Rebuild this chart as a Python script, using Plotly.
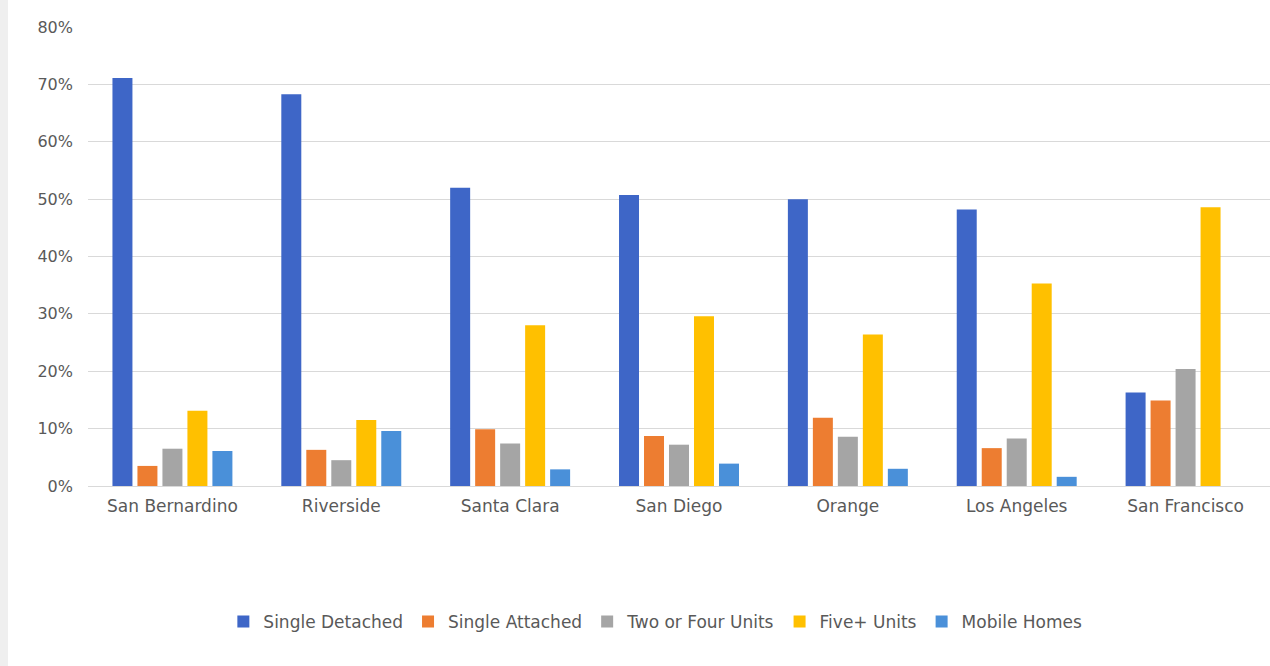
import plotly.graph_objects as go

# Housing-type share by county (percent of housing units)
counties = ["San Bernardino", "Riverside", "Santa Clara", "San Diego",
            "Orange", "Los Angeles", "San Francisco"]

single_detached = [71.1, 68.3, 52.0, 50.7, 50.0, 48.2, 16.3]
single_attached = [3.5, 6.3, 9.9, 8.7, 11.9, 6.6, 14.9]
two_to_four = [6.5, 4.5, 7.4, 7.2, 8.6, 8.3, 20.4]
five_plus = [13.1, 11.5, 28.0, 29.6, 26.4, 35.3, 48.6]
mobile_homes = [6.1, 9.6, 2.9, 3.9, 3.0, 1.6, 0.0]

series_names = ["Single Detached", "Single Attached", "Two or Four Units",
                "Five+ Units", "Mobile Homes"]
series_values = [single_detached, single_attached, two_to_four,
                 five_plus, mobile_homes]
series_colors = ["#3E66C7", "#ED7D31", "#A5A5A5", "#FFC000", "#4A90D9"]

y_ticks = [0, 10, 20, 30, 40, 50, 60, 70, 80]
y_tick_labels = [f"{v}%" for v in y_ticks]

fig = go.Figure()
for name, vals, color in zip(series_names, series_values, series_colors):
    fig.add_trace(go.Bar(
        x=counties, y=vals, name=name,
        marker=dict(color=color, line=dict(width=0)),
    ))

font_family = "'DejaVu Sans', sans-serif"

fig.update_layout(
    width=1270, height=666,
    margin=dict(l=88, r=0, t=27, b=180),
    paper_bgcolor="white",
    plot_bgcolor="white",
    barmode="group",
    bargap=0.26,
    bargroupgap=0.2,
    font=dict(family=font_family, color="#595959", size=16),
    xaxis=dict(
        showgrid=False, showline=False, ticks="",
        tickfont=dict(size=17, color="#595959"),
        ticklabelstandoff=8,
    ),
    yaxis=dict(
        range=[0, 80], tickvals=y_ticks, ticktext=y_tick_labels,
        showgrid=True, gridcolor="#D9D9D9", gridwidth=1,
        zeroline=True, zerolinecolor="#D9D9D9", zerolinewidth=1,
        showline=False, ticks="",
        tickfont=dict(size=16, color="#595959"),
        ticklabelstandoff=14,
    ),
    legend=dict(
        orientation="h", x=0.48, xanchor="center", y=-0.296, yanchor="middle",
        font=dict(size=17, color="#595959"),
        itemwidth=30, traceorder="normal",
    ),
    showlegend=True,
)

# light frame strip on the left edge of the page
fig.add_shape(type="rect", xref="paper", yref="paper",
              x0=-88 / 1182, x1=-80 / 1182, y0=-180 / 459, y1=27 / 459 + 1,
              fillcolor="#EFEFEF", line=dict(width=0), layer="below")

fig.write_html("out.html")
